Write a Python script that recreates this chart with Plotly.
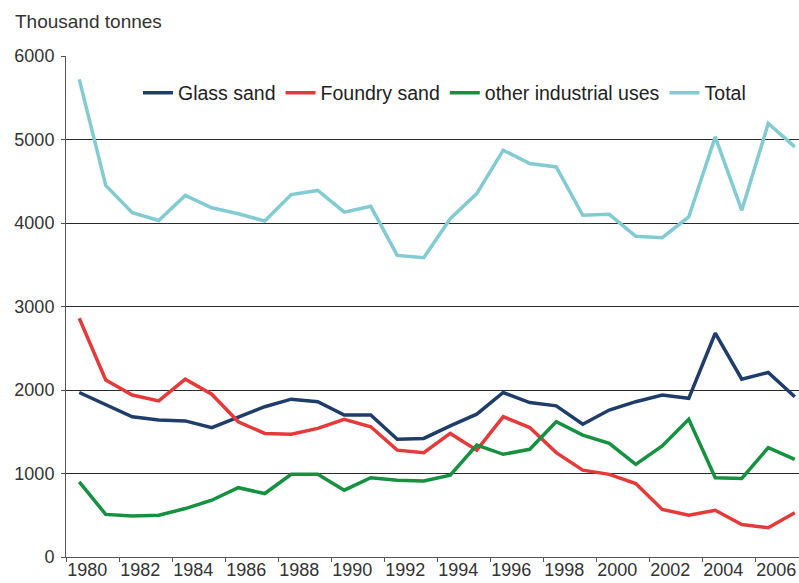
import plotly.graph_objects as go

years = list(range(1980, 2008))
glass_sand = [1970, 1820, 1680, 1640, 1630, 1550, 1670, 1800, 1890, 1860, 1700, 1700,
              1410, 1420, 1570, 1710, 1970, 1850, 1810, 1590, 1760, 1860, 1940, 1900,
              2680, 2130, 2210, 1920]
foundry_sand = [2860, 2120, 1940, 1870, 2130, 1950, 1620, 1480, 1470, 1540, 1650, 1560,
                1280, 1250, 1480, 1280, 1680, 1550, 1250, 1040, 990, 880, 570, 500,
                560, 390, 350, 530]
other_uses = [900, 510, 490, 500, 580, 680, 830, 760, 990, 990, 800, 950,
              920, 910, 980, 1340, 1230, 1290, 1620, 1460, 1360, 1110, 1330, 1650,
              950, 940, 1310, 1170]
total = [5720, 4450, 4124, 4030, 4330, 4183, 4110, 4024, 4340, 4390, 4130, 4200,
         3612, 3584, 4052, 4352, 4872, 4712, 4672, 4092, 4104, 3840, 3824, 4072,
         5032, 4152, 5192, 4912]
tick_years = list(range(1980, 2008, 2))
y_ticks = [0, 1000, 2000, 3000, 4000, 5000, 6000]

series = [
    ("Glass sand", glass_sand, "#1f3d6b"),
    ("Foundry sand", foundry_sand, "#e53a3a"),
    ("other industrial uses", other_uses, "#15913f"),
    ("Total", total, "#82cbd2"),
]

FONT = "Liberation Sans, Arial, sans-serif"

fig = go.Figure()
for name, vals, col in series:
    fig.add_trace(go.Scatter(x=years, y=vals, name=name, mode="lines",
                             line=dict(color=col, width=3.5)))

# invisible trace on second x axis to carry the year labels
fig.add_trace(go.Scatter(x=years, y=total, xaxis="x2", mode="lines",
                         line=dict(width=0), showlegend=False, hoverinfo="skip"))

W, H = 799, 583
L, R, T, B = 66, 0, 56, 26
pw = W - L - R
ph = H - T - B
per_year = 26.5
x0 = 1979.5
x1 = x0 + pw / per_year

fig.update_layout(
    width=W, height=H,
    margin=dict(l=L, r=R, t=T, b=B),
    paper_bgcolor="white", plot_bgcolor="white",
    font=dict(family=FONT, size=18, color="#333333"),
    showlegend=True,
    legend=dict(orientation="h", x=0.0982, y=0.926, xanchor="left", yanchor="middle",
                font=dict(size=19.5, color="#222222"), bgcolor="rgba(0,0,0,0)",
                itemwidth=30),
    xaxis=dict(range=[x0, x1], showgrid=False, zeroline=False,
               showline=True, linecolor="#555555", linewidth=1,
               ticks="outside", ticklen=4, tickcolor="#555555",
               tickvals=[y - 0.5 for y in tick_years], showticklabels=False),
    xaxis2=dict(range=[x0, x1], overlaying="x", side="bottom", showgrid=False,
                zeroline=False, showline=False, ticks="",
                tickvals=[y + 0.3 for y in tick_years],
                ticktext=[str(y) for y in tick_years],
                tickfont=dict(size=18, color="#333333")),
    yaxis=dict(range=[0, 6000], tickvals=y_ticks, showgrid=True,
               gridcolor="#2a2a2a", gridwidth=1, zeroline=False,
               showline=True, linecolor="#555555", linewidth=1,
               ticks="outside", ticklen=4, tickcolor="#555555",
               ticklabelstandoff=3,
               tickfont=dict(size=18, color="#333333")),
    annotations=[dict(text="Thousand tonnes", xref="paper", yref="paper",
                      x=-(L - 13) / pw, y=1 + (T - 22) / ph,
                      xanchor="left", yanchor="middle", showarrow=False,
                      font=dict(size=19, color="#333333"))],
)

fig.write_html(
    "out.html",
    config={"displayModeBar": False},
    post_script="document.body.style.margin='0';document.body.style.overflow='hidden';",
)
